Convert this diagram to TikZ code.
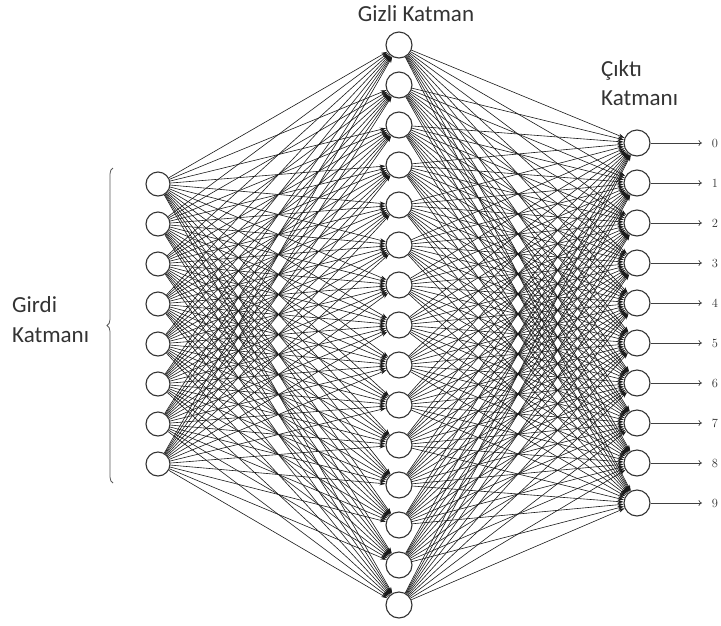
\documentclass[tikz,border=0pt]{standalone}
\usepackage{fontspec}
\newfontfamily\labelfont{Carlito}
\usetikzlibrary{arrows.meta,decorations.pathreplacing,backgrounds}
\begin{document}
\begin{tikzpicture}[x=1pt,y=-1pt,
  neuron/.style={circle,draw=black!80,line width=1.1pt,fill=white,inner sep=0pt,minimum size=26pt},
  inneuron/.style={neuron,minimum size=24pt},
  link/.style={line width=0.6pt,draw=black!90,-{Stealth[length=6pt,width=4pt]}},
  outarrow/.style={line width=0.7pt,draw=black!75,-{To[length=3.5pt,width=6pt]}},
  layertitle/.style={font=\labelfont\fontsize{23}{29}\selectfont,text=black!80,inner sep=0pt},
  digit/.style={font=\fontsize{12.5}{14}\selectfont,text=black!80,inner sep=0pt}]
\useasboundingbox (0,0) rectangle (721,625);

% input layer (8 units)
\foreach \i in {1,...,8}
  \node[inneuron] (i\i) at (158,{184+40*(\i-1)}) {};
% hidden layer (15 units)
\foreach \h in {1,...,15}
  \node[neuron] (h\h) at (399,{45+40*(\h-1)}) {};
% output layer (10 units) with class labels
\foreach \o in {0,...,9} {
  \node[neuron] (o\o) at (637,{143+40*\o}) {};
  \coordinate (t\o) at (702,{143+40*\o});
  \node[digit] (d\o) at (715,{143+40*\o}) {\o};
  \draw[outarrow] (o\o) -- (t\o);
}

% fully connected weights
\begin{scope}[on background layer]
  \foreach \i in {1,...,8}
    \foreach \h in {1,...,15}
      \draw[link] (i\i) -- (h\h);
  \foreach \h in {1,...,15}
    \foreach \o in {0,...,9}
      \draw[link] (h\h) -- (o\o);
\end{scope}

% layer titles
\node[layertitle,anchor=base] (hidtitle) at (416,21) {Gizli Katman};
\node[layertitle,anchor=base west] (outtitleA) at (601,76) {Çıktı};
\node[layertitle,anchor=base west] (outtitleB) at (601,105) {Katmanı};
\node[layertitle,anchor=base west] (intitleA) at (12,312) {Girdi};
\node[layertitle,anchor=base west] (intitleB) at (12,342) {Katmanı};

% brace grouping the input units
\coordinate (braceB) at (113,483);
\coordinate (braceT) at (113,168);
\draw[decorate,decoration={brace,amplitude=6pt},line width=0.8pt,draw=black!65] (braceB) -- (braceT);
\end{tikzpicture}
\end{document}
